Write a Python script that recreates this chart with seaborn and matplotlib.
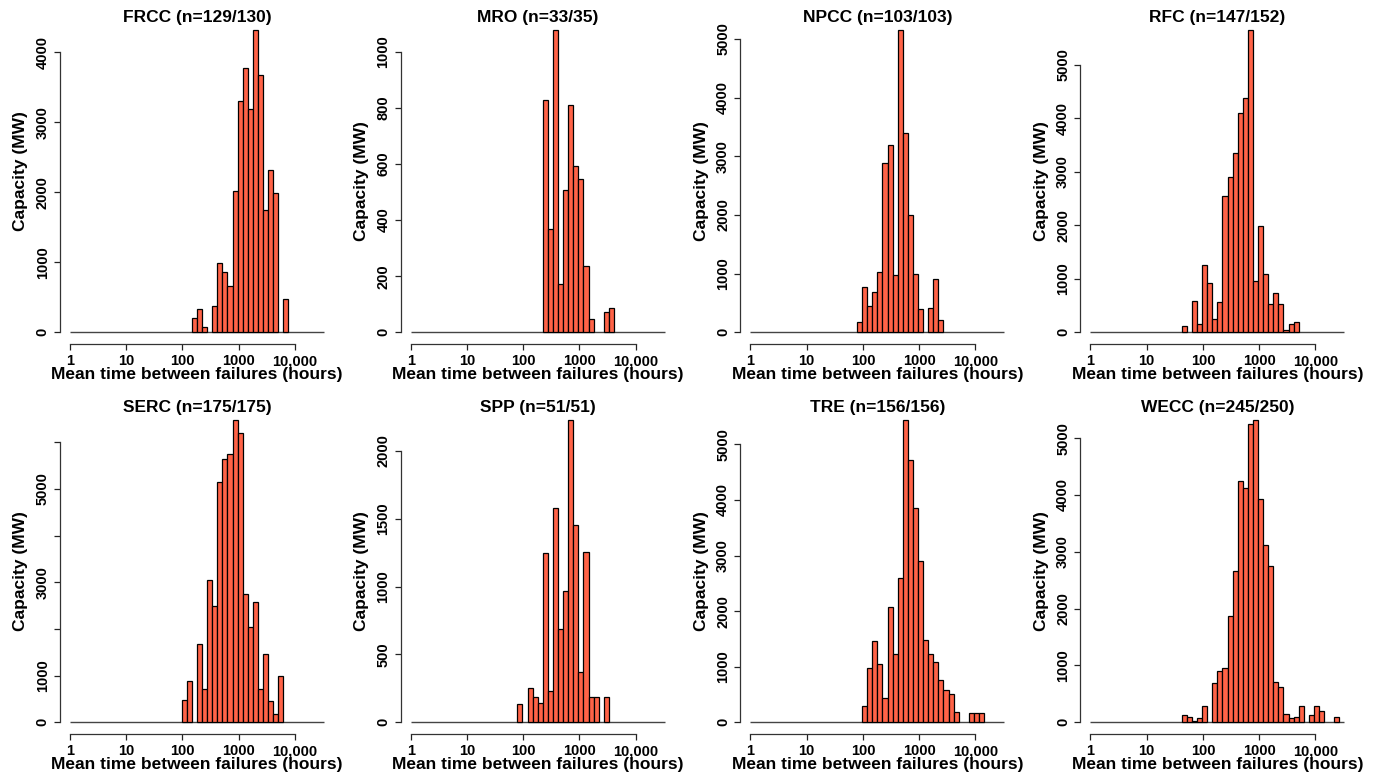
import numpy as np
import pandas as pd
import matplotlib
matplotlib.use("Agg")
import matplotlib.pyplot as plt
import seaborn as sns

# ---------------- data ----------------
# Histogram bins are 0.3 units wide on a log2(hours) scale: bin k spans [0.3k, 0.3(k+1)).
BIN_WIDTH_LOG2 = 0.3
XRANGE_HOURS = (1, 2 ** 15)

regions = ["FRCC", "MRO", "NPCC", "RFC", "SERC", "SPP", "TRE", "WECC"]
n_used = [129, 33, 103, 147, 175, 51, 156, 245]
n_total = [130, 35, 103, 152, 175, 51, 156, 250]

# first bin index of each region and capacity (MW) per consecutive bin
frcc_start = 24
frcc_mw = [200, 330, 76, 0, 370, 995, 860, 657, 2020, 3300, 3770, 3190, 4320,
           3670, 1743, 2320, 1995, 0, 470]
mro_start = 26
mro_mw = [827, 369, 1078, 172, 509, 810, 593, 546, 238, 48, 0, 0, 74, 86]
npcc_start = 21
npcc_mw = [177, 771, 446, 686, 1034, 2880, 3194, 983, 5154, 3394, 2000, 1000,
           400, 0, 417, 914, 205]
rfc_start = 18
rfc_mw = [125, 0, 587, 162, 1261, 918, 243, 574, 2553, 2903, 3352, 4101, 4376,
          5650, 961, 1979, 1092, 524, 730, 537, 37, 162, 187]
serc_start = 22
serc_mw = [479, 880, 0, 1674, 722, 3054, 2496, 5143, 5651, 5758, 6480, 6202,
           2747, 2039, 2575, 708, 1466, 451, 179, 987]
spp_start = 21
spp_mw = [133, 0, 251, 184, 140, 1245, 234, 1582, 686, 969, 2228, 1451, 369,
          1255, 189, 189, 0, 189]
tre_start = 22
tre_mw = [301, 969, 1456, 1053, 433, 2076, 1221, 2593, 5440, 4711, 3857, 2906,
          1486, 1227, 1089, 758, 590, 517, 180, 0, 0, 162, 162, 162]
wecc_start = 18
wecc_mw = [135, 100, 23, 70, 282, 0, 687, 910, 962, 1872, 2658, 4237, 4120,
           5252, 5320, 3930, 3116, 2741, 704, 616, 153, 76, 94, 282, 0, 123,
           282, 200, 0, 0, 88]

bin_starts = [frcc_start, mro_start, npcc_start, rfc_start,
              serc_start, spp_start, tre_start, wecc_start]
capacities = [frcc_mw, mro_mw, npcc_mw, rfc_mw, serc_mw, spp_mw, tre_mw, wecc_mw]

x_tick_values = [1, 10, 100, 1000, 10000]
x_tick_labels = ["1", "10", "100", "1000", "10,000"]

y_ticks = [
    [0, 1000, 2000, 3000, 4000],
    [0, 200, 400, 600, 800, 1000],
    [0, 1000, 2000, 3000, 4000, 5000],
    [0, 1000, 2000, 3000, 4000, 5000],
    [0, 1000, 2000, 3000, 4000, 5000, 6000],
    [0, 500, 1000, 1500, 2000],
    [0, 1000, 2000, 3000, 4000, 5000],
    [0, 1000, 2000, 3000, 4000, 5000],
]
y_tick_labels = [
    ["0", "1000", "2000", "3000", "4000"],
    ["0", "200", "400", "600", "800", "1000"],
    ["0", "1000", "2000", "3000", "4000", "5000"],
    ["0", "1000", "2000", "3000", "4000", "5000"],
    ["0", "1000", "", "3000", "", "5000", ""],
    ["0", "500", "1000", "1500", "2000"],
    ["0", "1000", "2000", "3000", "4000", "5000"],
    ["0", "1000", "2000", "3000", "4000", "5000"],
]

x_label = "Mean time between failures (hours)"
y_label = "Capacity (MW)"

# ---------------- style ----------------
sns.set_style("ticks")
plt.rcParams["font.family"] = ["Liberation Sans", "DejaVu Sans"]
plt.rcParams["font.weight"] = "bold"
plt.rcParams["text.color"] = "black"
plt.rcParams["xtick.color"] = "#222222"
plt.rcParams["ytick.color"] = "#222222"
plt.rcParams["xtick.labelcolor"] = "black"
plt.rcParams["ytick.labelcolor"] = "black"

BAR_COLOR = "#FF6347"
W, H = 1382, 775
PT = 72 / 100.0  # points per pixel

fig = plt.figure(figsize=(W / 100, H / 100), dpi=100)
fig.patch.set_facecolor("white")

col_left_px = [59.8, 400.5, 740.2, 1080.2]
row_top_px = [17.8, 407.8]
ax_w_px, ax_h_px = 274.4, 326.6
ylabel_shift_px = [10, 0, 0, 0, 0, 0, 0, 0]

x0, x1 = np.log2(XRANGE_HOURS[0]), np.log2(XRANGE_HOURS[1])
xpad = 0.04 * (x1 - x0)

for i, reg in enumerate(regions):
    r, c = divmod(i, 4)
    ax = fig.add_axes([col_left_px[c] / W,
                       1 - (row_top_px[r] + ax_h_px) / H,
                       ax_w_px / W, ax_h_px / H])
    ax.set_facecolor("white")

    heights = np.array(capacities[i], dtype=float)
    nbins = len(heights)
    k = bin_starts[i] + np.arange(nbins)
    centers = (k + 0.5) * BIN_WIDTH_LOG2
    lo = bin_starts[i] * BIN_WIDTH_LOG2
    hi = (bin_starts[i] + nbins) * BIN_WIDTH_LOG2
    df = pd.DataFrame({"log2_mtbf": centers, "capacity": heights})

    sns.histplot(data=df, x="log2_mtbf", weights="capacity", bins=nbins,
                 binrange=(lo, hi), ax=ax,
                 color=BAR_COLOR, edgecolor="black", linewidth=0.9, alpha=1.0)
    for p in ax.patches:
        if p.get_height() <= 0:
            p.set_visible(False)

    ymax = heights.max()
    ax.set_xlim(x0 - xpad, x1 + xpad)
    ax.set_ylim(-0.04 * ymax, 1.04 * ymax)

    # baseline
    ax.hlines(0, x0, x1, color="#444444", lw=1.0, zorder=0.5)

    # axes
    for s in ["top", "right"]:
        ax.spines[s].set_visible(False)
    ax.spines["left"].set_bounds(0, y_ticks[i][-1])
    ax.spines["bottom"].set_bounds(np.log2(x_tick_values[0]), np.log2(x_tick_values[-1]))
    for s in ["left", "bottom"]:
        ax.spines[s].set_color("#333333")
        ax.spines[s].set_linewidth(0.9)

    ax.set_xticks(np.log2(x_tick_values))
    ax.set_xticklabels(x_tick_labels)
    ax.set_yticks(y_ticks[i])
    ax.set_yticklabels(y_tick_labels[i])
    ax.tick_params(axis="both", direction="out", length=6 * PT, width=0.9,
                   labelsize=10.5)
    ax.tick_params(axis="x", pad=4 * PT)
    ax.tick_params(axis="y", pad=4 * PT, labelrotation=90)
    for lab in ax.get_yticklabels():
        lab.set_va("center")
    for lab in ax.get_xticklabels() + ax.get_yticklabels():
        lab.set_fontweight("bold")

    ax.set_xlabel("")
    ax.set_ylabel("")

    ax.text(0.5, 1.0, f"{reg} (n={n_used[i]}/{n_total[i]})", transform=ax.transAxes,
            ha="center", va="center", fontsize=12.5, fontweight="bold")
    ax.annotate(x_label, xy=(0.5, 0), xycoords="axes fraction",
                xytext=(0, -30 * PT), textcoords="offset points",
                ha="center", va="center", fontsize=12.5, fontweight="bold")
    ax.annotate(y_label, xy=(0, 0.5), xycoords="axes fraction",
                xytext=(-39 * PT, ylabel_shift_px[i] * PT), textcoords="offset points",
                ha="center", va="center", rotation=90, fontsize=12.5,
                fontweight="bold")

fig.savefig("out.png", dpi=100, facecolor="white")
